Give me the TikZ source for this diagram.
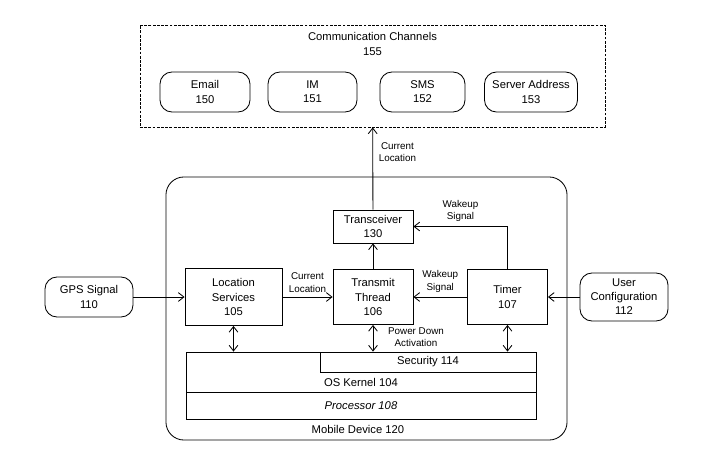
\documentclass[tikz,border=0pt]{standalone}
\usepackage{fontspec}
\setmainfont{Liberation Sans}
\usetikzlibrary{arrows.meta}

\begin{document}
\begin{tikzpicture}[
	x=0.025cm, y=-0.025cm,
	semithick,
	font=\fontsize{8}{10}\selectfont,
	>={Straight Barb[length=1.4mm,width=2.2mm]},
	box/.style={draw, rectangle, align=center, inner sep=0pt},
	pill/.style={draw, rounded corners=3mm, align=center, inner sep=0pt, minimum height=1cm},
	lbl/.style={align=center, inner sep=0pt, font=\fontsize{7}{9}\selectfont},
	]
	\useasboundingbox (0,0) rectangle (720,459);

	%channels
	\node[draw, dash pattern=on 2pt off 1pt, minimum width=11.625cm, minimum height=2.55cm] (chan) at (372.5,76) {};
	\node[align=center] (chanlbl) at (372.5,44) {Communication Channels\\155};
	\node[pill, minimum width=2.25cm] (email) at (205,92) {Email\\150};
	\node[pill, minimum width=2.225cm] (im) at (312.5,92) {IM\\151};
	\node[pill, minimum width=2.125cm] (sms) at (422.5,92) {SMS\\152};
	\node[pill, minimum width=2.325cm] (srv) at (531,92) {Server Address\\153};

	%mobile device
	\node[draw, rounded corners=4.5mm, minimum width=10.025cm, minimum height=6.575cm] (dev) at (366.5,308.5) {};
	\node (devlbl) at (358,429) {Mobile Device 120};

	%inputs
	\node[pill, minimum width=2.2cm] (gps) at (89,297) {GPS Signal\\110};
	\node[pill, minimum width=2.2cm, minimum height=1.2cm] (ucfg) at (624,297) {User\\Configuration\\112};

	%blocks
	\node[box, minimum width=2.425cm, minimum height=1.425cm] (loc) at (233.5,297) {Location\\Services\\105};
	\node[box, minimum width=2cm, minimum height=1.375cm] (tt) at (373,297) {Transmit\\Thread\\106};
	\node[box, minimum width=2cm, minimum height=1.375cm] (timer) at (507.5,297) {Timer\\107};
	\node[box, minimum width=2cm, minimum height=0.825cm] (trx) at (373,226.5) {Transceiver\\130};

	%stack
	\node[box, minimum width=8.75cm, minimum height=1cm] (kernel) at (361,372) {};
	\node[box, minimum width=5.4cm, minimum height=0.5cm] (sec) at (428,362) {Security 114};
	\node (kernellbl) at (361,382) {OS Kernel 104};
	\node[box, minimum width=8.75cm, minimum height=0.675cm, font=\fontsize{8}{10}\selectfont\itshape] (proc) at (361,405.5) {Processor 108};

	%arrows
	\draw[->] (gps) -- (loc);
	\draw[->] (loc) -- node[lbl, above=3pt] (cl1) {Current\\Location} (tt);
	\draw[->] (timer) -- node[lbl, above=3pt] (ws1) {Wakeup\\Signal} (tt);
	\draw[->] (ucfg) -- (timer);
	\draw[->] (tt) -- (trx);
	\draw[->] (timer.north) |- node[lbl, pos=0.75, above=3pt] (ws2) {Wakeup\\Signal} (trx.east);
	\draw[->] (trx) -- node[lbl, pos=0.7, right=4pt] (cl2) {Current\\Location} (chan);
	\draw[<->] (loc.south) -- (loc.south |- kernel.north);
	\draw[<->] (tt.south) -- (tt.south |- sec.north);
	\draw[<->] (timer.south) -- (timer.south |- sec.north);
	\node[lbl] (pda) at (416,337) {Power Down\\Activation};
\end{tikzpicture}
\end{document}
